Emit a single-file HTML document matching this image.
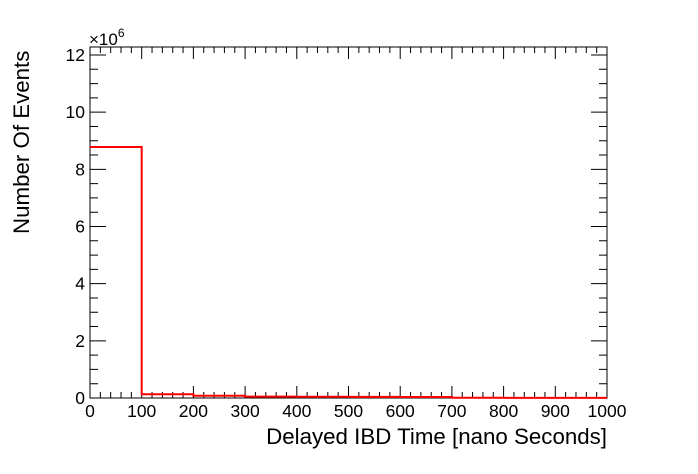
<!DOCTYPE html>
<html><head><meta charset="utf-8"><style>
html,body{margin:0;padding:0;background:#fff;width:698px;height:474px;overflow:hidden}
text{font-family:"Liberation Sans",Arial,sans-serif;fill:#000}
</style></head><body>
<svg id="chart" width="698" height="474" xmlns="http://www.w3.org/2000/svg">
<g id="axes"></g>
<text x="89" y="45" font-size="17">×10<tspan dy="-8" font-size="12">6</tspan></text>
<text x="607" y="444" font-size="22.3" text-anchor="end">Delayed IBD Time [nano Seconds]</text>
<text transform="translate(29,234) rotate(-90)" font-size="22.3" text-anchor="start">Number Of Events</text>
</svg>
<script>
const binEdges=[0,100,200,300,400,500,600,700,800,900,1000];
const binValues=[8.78,0.13,0.08,0.05,0.045,0.04,0.035,0.01,0.005,0.003];
const xTicks=[0,100,200,300,400,500,600,700,800,900,1000];
const yTicks=[0,2,4,6,8,10,12];
const L=90,R=607,T=47,B=398,XMAX=1000,YMAX=12.28;
const sx=v=>L+(v/XMAX)*(R-L), sy=v=>B-(v/YMAX)*(B-T);
const ns="http://www.w3.org/2000/svg", g=document.getElementById('axes');
function mk(t,a){const e=document.createElementNS(ns,t);for(const k in a)e.setAttribute(k,a[k]);g.appendChild(e);return e;}
const fr=mk('rect',{x:L,y:T,width:R-L,height:B-T,fill:'none',stroke:'#000','stroke-width':1});


let d='';
for(let v=0;v<=XMAX;v+=20){const x=sx(v),len=(v%100===0)?12:6;d+=`M${x},${B}v${-len}M${x},${T}v${len}`;}
for(let v=0;v<=12.01;v+=0.5){const y=sy(v),len=(Math.abs(v%2)<1e-6)?16:8;d+=`M${L},${y}h${len}M${R},${y}h${-len}`;}
const tk=mk('path',{d:d,stroke:'#000','stroke-width':1,fill:'none'});


xTicks.forEach(v=>{const t=mk('text',{x:sx(v),y:B+19,'font-size':17.5,'text-anchor':'middle'});t.textContent=v;

});
yTicks.forEach(v=>{const t=mk('text',{x:L-5,y:sy(v)+6,'font-size':17.5,'text-anchor':'end'});t.textContent=v;

});
let p=`M${sx(binEdges[0])},${sy(binValues[0])}`;
for(let i=0;i<binValues.length;i++){p+=`L${sx(binEdges[i])},${sy(binValues[i])}L${sx(binEdges[i+1])},${sy(binValues[i])}`;if(i+1<binValues.length)p+=`L${sx(binEdges[i+1])},${sy(binValues[i+1])}`;}
const h=mk('path',{d:p,stroke:'#ff0000','stroke-width':2,fill:'none'});


</script>
</body></html>
